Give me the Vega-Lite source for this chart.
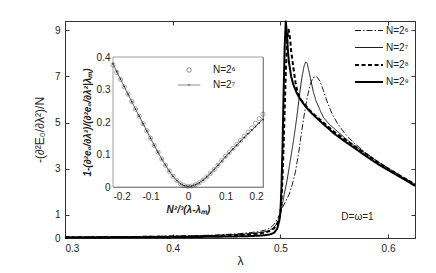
{
 "$schema": "https://vega.github.io/schema/vega-lite/v6.json",
 "width": 350, "height": 217, "autosize": "none",
 "padding": {"left": 65, "top": 21, "right": 21, "bottom": 35},
 "background": "white",
 "config": {
  "font": "Liberation Sans",
  "view": {"stroke": "#333333", "strokeWidth": 1},
  "axis": {"grid": false, "labelFont": "Liberation Sans", "labelFontSize": 10, "labelColor": "#222222", "titleFont": "Liberation Sans", "titleColor": "#222222", "titleFontWeight": "normal", "domainColor": "#333333", "tickColor": "#333333", "tickSize": -4, "labelPadding": 9},
  "legend": {"labelFont": "Liberation Sans", "labelFontSize": 10, "labelColor": "#222222"}
 },
 "datasets": {
  "main": [
   {"l":0.30,"v":0.04,"N":"N=2⁶"},{"l":0.33,"v":0.05,"N":"N=2⁶"},{"l":0.36,"v":0.06,"N":"N=2⁶"},{"l":0.39,"v":0.08,"N":"N=2⁶"},{"l":0.42,"v":0.10,"N":"N=2⁶"},{"l":0.44,"v":0.13,"N":"N=2⁶"},{"l":0.46,"v":0.18,"N":"N=2⁶"},{"l":0.47,"v":0.22,"N":"N=2⁶"},{"l":0.48,"v":0.28,"N":"N=2⁶"},{"l":0.485,"v":0.33,"N":"N=2⁶"},{"l":0.49,"v":0.42,"N":"N=2⁶"},{"l":0.494,"v":0.58,"N":"N=2⁶"},{"l":0.497,"v":0.8,"N":"N=2⁶"},{"l":0.5,"v":1.08,"N":"N=2⁶"},{"l":0.5015,"v":1.28,"N":"N=2⁶"},{"l":0.505,"v":1.6,"N":"N=2⁶"},{"l":0.508,"v":1.88,"N":"N=2⁶"},{"l":0.511,"v":2.3,"N":"N=2⁶"},{"l":0.514,"v":2.87,"N":"N=2⁶"},{"l":0.517,"v":3.7,"N":"N=2⁶"},{"l":0.52,"v":4.7,"N":"N=2⁶"},{"l":0.5225,"v":5.45,"N":"N=2⁶"},{"l":0.525,"v":6.1,"N":"N=2⁶"},{"l":0.528,"v":6.7,"N":"N=2⁶"},{"l":0.5305,"v":6.95,"N":"N=2⁶"},{"l":0.5335,"v":7.0,"N":"N=2⁶"},{"l":0.537,"v":6.78,"N":"N=2⁶"},{"l":0.54,"v":6.38,"N":"N=2⁶"},{"l":0.5435,"v":5.9,"N":"N=2⁶"},{"l":0.548,"v":5.38,"N":"N=2⁶"},{"l":0.553,"v":4.96,"N":"N=2⁶"},{"l":0.56,"v":4.52,"N":"N=2⁶"},{"l":0.568,"v":4.13,"N":"N=2⁶"},{"l":0.575,"v":3.86,"N":"N=2⁶"},{"l":0.58,"v":3.66,"N":"N=2⁶"},{"l":0.59,"v":3.33,"N":"N=2⁶"},{"l":0.60,"v":3.03,"N":"N=2⁶"},{"l":0.61,"v":2.75,"N":"N=2⁶"},{"l":0.62,"v":2.47,"N":"N=2⁶"},{"l":0.625,"v":2.33,"N":"N=2⁶"},
   {"l":0.30,"v":0.03,"N":"N=2⁷"},{"l":0.33,"v":0.04,"N":"N=2⁷"},{"l":0.36,"v":0.05,"N":"N=2⁷"},{"l":0.39,"v":0.065,"N":"N=2⁷"},{"l":0.42,"v":0.085,"N":"N=2⁷"},{"l":0.44,"v":0.11,"N":"N=2⁷"},{"l":0.46,"v":0.15,"N":"N=2⁷"},{"l":0.47,"v":0.18,"N":"N=2⁷"},{"l":0.48,"v":0.23,"N":"N=2⁷"},{"l":0.485,"v":0.27,"N":"N=2⁷"},{"l":0.49,"v":0.33,"N":"N=2⁷"},{"l":0.494,"v":0.45,"N":"N=2⁷"},{"l":0.497,"v":0.63,"N":"N=2⁷"},{"l":0.499,"v":0.85,"N":"N=2⁷"},{"l":0.5,"v":1.05,"N":"N=2⁷"},{"l":0.502,"v":1.5,"N":"N=2⁷"},{"l":0.504,"v":2.0,"N":"N=2⁷"},{"l":0.506,"v":2.44,"N":"N=2⁷"},{"l":0.509,"v":3.3,"N":"N=2⁷"},{"l":0.5125,"v":4.31,"N":"N=2⁷"},{"l":0.515,"v":5.15,"N":"N=2⁷"},{"l":0.517,"v":5.9,"N":"N=2⁷"},{"l":0.519,"v":6.65,"N":"N=2⁷"},{"l":0.5205,"v":7.08,"N":"N=2⁷"},{"l":0.522,"v":7.45,"N":"N=2⁷"},{"l":0.5235,"v":7.63,"N":"N=2⁷"},{"l":0.525,"v":7.55,"N":"N=2⁷"},{"l":0.528,"v":6.9,"N":"N=2⁷"},{"l":0.5305,"v":6.35,"N":"N=2⁷"},{"l":0.533,"v":5.95,"N":"N=2⁷"},{"l":0.537,"v":5.52,"N":"N=2⁷"},{"l":0.54,"v":5.22,"N":"N=2⁷"},{"l":0.546,"v":4.9,"N":"N=2⁷"},{"l":0.553,"v":4.62,"N":"N=2⁷"},{"l":0.56,"v":4.33,"N":"N=2⁷"},{"l":0.568,"v":4.02,"N":"N=2⁷"},{"l":0.575,"v":3.8,"N":"N=2⁷"},{"l":0.58,"v":3.63,"N":"N=2⁷"},{"l":0.59,"v":3.31,"N":"N=2⁷"},{"l":0.60,"v":3.01,"N":"N=2⁷"},{"l":0.61,"v":2.73,"N":"N=2⁷"},{"l":0.62,"v":2.45,"N":"N=2⁷"},{"l":0.625,"v":2.31,"N":"N=2⁷"},
   {"l":0.30,"v":0.03,"N":"N=2⁸"},{"l":0.33,"v":0.035,"N":"N=2⁸"},{"l":0.36,"v":0.045,"N":"N=2⁸"},{"l":0.39,"v":0.055,"N":"N=2⁸"},{"l":0.42,"v":0.07,"N":"N=2⁸"},{"l":0.44,"v":0.09,"N":"N=2⁸"},{"l":0.46,"v":0.12,"N":"N=2⁸"},{"l":0.47,"v":0.15,"N":"N=2⁸"},{"l":0.48,"v":0.19,"N":"N=2⁸"},{"l":0.485,"v":0.23,"N":"N=2⁸"},{"l":0.49,"v":0.3,"N":"N=2⁸"},{"l":0.494,"v":0.42,"N":"N=2⁸"},{"l":0.497,"v":0.62,"N":"N=2⁸"},{"l":0.499,"v":0.85,"N":"N=2⁸"},{"l":0.5,"v":1.1,"N":"N=2⁸"},{"l":0.501,"v":1.6,"N":"N=2⁸"},{"l":0.502,"v":2.6,"N":"N=2⁸"},{"l":0.503,"v":4.0,"N":"N=2⁸"},{"l":0.504,"v":5.6,"N":"N=2⁸"},{"l":0.505,"v":7.1,"N":"N=2⁸"},{"l":0.506,"v":8.3,"N":"N=2⁸"},{"l":0.507,"v":8.9,"N":"N=2⁸"},{"l":0.5077,"v":9.02,"N":"N=2⁸"},{"l":0.509,"v":8.65,"N":"N=2⁸"},{"l":0.51,"v":8.1,"N":"N=2⁸"},{"l":0.512,"v":7.4,"N":"N=2⁸"},{"l":0.514,"v":6.75,"N":"N=2⁸"},{"l":0.516,"v":6.3,"N":"N=2⁸"},{"l":0.519,"v":6.0,"N":"N=2⁸"},{"l":0.522,"v":5.82,"N":"N=2⁸"},{"l":0.527,"v":5.55,"N":"N=2⁸"},{"l":0.532,"v":5.32,"N":"N=2⁸"},{"l":0.54,"v":5.0,"N":"N=2⁸"},{"l":0.55,"v":4.6,"N":"N=2⁸"},{"l":0.56,"v":4.27,"N":"N=2⁸"},{"l":0.57,"v":3.95,"N":"N=2⁸"},{"l":0.58,"v":3.62,"N":"N=2⁸"},{"l":0.59,"v":3.3,"N":"N=2⁸"},{"l":0.60,"v":3.01,"N":"N=2⁸"},{"l":0.61,"v":2.73,"N":"N=2⁸"},{"l":0.62,"v":2.46,"N":"N=2⁸"},{"l":0.625,"v":2.32,"N":"N=2⁸"},
   {"l":0.30,"v":0.02,"N":"N=2⁹"},{"l":0.33,"v":0.025,"N":"N=2⁹"},{"l":0.36,"v":0.03,"N":"N=2⁹"},{"l":0.39,"v":0.035,"N":"N=2⁹"},{"l":0.42,"v":0.045,"N":"N=2⁹"},{"l":0.44,"v":0.055,"N":"N=2⁹"},{"l":0.46,"v":0.07,"N":"N=2⁹"},{"l":0.47,"v":0.08,"N":"N=2⁹"},{"l":0.48,"v":0.1,"N":"N=2⁹"},{"l":0.485,"v":0.12,"N":"N=2⁹"},{"l":0.49,"v":0.15,"N":"N=2⁹"},{"l":0.494,"v":0.22,"N":"N=2⁹"},{"l":0.497,"v":0.4,"N":"N=2⁹"},{"l":0.499,"v":0.75,"N":"N=2⁹"},{"l":0.5,"v":1.1,"N":"N=2⁹"},{"l":0.501,"v":2.2,"N":"N=2⁹"},{"l":0.502,"v":4.0,"N":"N=2⁹"},{"l":0.503,"v":6.3,"N":"N=2⁹"},{"l":0.504,"v":8.3,"N":"N=2⁹"},{"l":0.505,"v":9.38,"N":"N=2⁹"},{"l":0.506,"v":8.9,"N":"N=2⁹"},{"l":0.507,"v":8.1,"N":"N=2⁹"},{"l":0.508,"v":7.6,"N":"N=2⁹"},{"l":0.51,"v":7.0,"N":"N=2⁹"},{"l":0.512,"v":6.65,"N":"N=2⁹"},{"l":0.515,"v":6.3,"N":"N=2⁹"},{"l":0.518,"v":6.05,"N":"N=2⁹"},{"l":0.522,"v":5.78,"N":"N=2⁹"},{"l":0.527,"v":5.5,"N":"N=2⁹"},{"l":0.532,"v":5.27,"N":"N=2⁹"},{"l":0.54,"v":4.93,"N":"N=2⁹"},{"l":0.55,"v":4.52,"N":"N=2⁹"},{"l":0.56,"v":4.18,"N":"N=2⁹"},{"l":0.57,"v":3.86,"N":"N=2⁹"},{"l":0.58,"v":3.53,"N":"N=2⁹"},{"l":0.59,"v":3.22,"N":"N=2⁹"},{"l":0.60,"v":2.94,"N":"N=2⁹"},{"l":0.61,"v":2.67,"N":"N=2⁹"},{"l":0.62,"v":2.4,"N":"N=2⁹"},{"l":0.625,"v":2.26,"N":"N=2⁹"}
  ],
  "inset": [
   {"x":-0.20,"y":0.376,"s":"N=2⁶"},{"x":-0.19,"y":0.353,"s":"N=2⁶"},{"x":-0.18,"y":0.331,"s":"N=2⁶"},{"x":-0.17,"y":0.308,"s":"N=2⁶"},{"x":-0.16,"y":0.286,"s":"N=2⁶"},{"x":-0.15,"y":0.263,"s":"N=2⁶"},{"x":-0.14,"y":0.240,"s":"N=2⁶"},{"x":-0.13,"y":0.218,"s":"N=2⁶"},{"x":-0.12,"y":0.195,"s":"N=2⁶"},{"x":-0.11,"y":0.173,"s":"N=2⁶"},{"x":-0.10,"y":0.150,"s":"N=2⁶"},{"x":-0.09,"y":0.128,"s":"N=2⁶"},{"x":-0.08,"y":0.107,"s":"N=2⁶"},{"x":-0.07,"y":0.086,"s":"N=2⁶"},{"x":-0.06,"y":0.067,"s":"N=2⁶"},{"x":-0.05,"y":0.049,"s":"N=2⁶"},{"x":-0.04,"y":0.033,"s":"N=2⁶"},{"x":-0.03,"y":0.020,"s":"N=2⁶"},{"x":-0.02,"y":0.010,"s":"N=2⁶"},{"x":-0.01,"y":0.004,"s":"N=2⁶"},{"x":0.0,"y":0.002,"s":"N=2⁶"},{"x":0.01,"y":0.003,"s":"N=2⁶"},{"x":0.02,"y":0.007,"s":"N=2⁶"},{"x":0.03,"y":0.013,"s":"N=2⁶"},{"x":0.04,"y":0.021,"s":"N=2⁶"},{"x":0.05,"y":0.031,"s":"N=2⁶"},{"x":0.06,"y":0.042,"s":"N=2⁶"},{"x":0.07,"y":0.054,"s":"N=2⁶"},{"x":0.08,"y":0.067,"s":"N=2⁶"},{"x":0.09,"y":0.081,"s":"N=2⁶"},{"x":0.10,"y":0.095,"s":"N=2⁶"},{"x":0.11,"y":0.107,"s":"N=2⁶"},{"x":0.12,"y":0.119,"s":"N=2⁶"},{"x":0.13,"y":0.131,"s":"N=2⁶"},{"x":0.14,"y":0.143,"s":"N=2⁶"},{"x":0.15,"y":0.156,"s":"N=2⁶"},{"x":0.16,"y":0.169,"s":"N=2⁶"},{"x":0.17,"y":0.182,"s":"N=2⁶"},{"x":0.18,"y":0.196,"s":"N=2⁶"},{"x":0.19,"y":0.210,"s":"N=2⁶"},{"x":0.20,"y":0.224,"s":"N=2⁶"},
   {"x":-0.20,"y":0.379,"s":"N=2⁷"},{"x":-0.19,"y":0.355,"s":"N=2⁷"},{"x":-0.18,"y":0.332,"s":"N=2⁷"},{"x":-0.17,"y":0.309,"s":"N=2⁷"},{"x":-0.16,"y":0.286,"s":"N=2⁷"},{"x":-0.15,"y":0.263,"s":"N=2⁷"},{"x":-0.14,"y":0.240,"s":"N=2⁷"},{"x":-0.13,"y":0.218,"s":"N=2⁷"},{"x":-0.12,"y":0.195,"s":"N=2⁷"},{"x":-0.11,"y":0.173,"s":"N=2⁷"},{"x":-0.10,"y":0.150,"s":"N=2⁷"},{"x":-0.09,"y":0.128,"s":"N=2⁷"},{"x":-0.08,"y":0.107,"s":"N=2⁷"},{"x":-0.07,"y":0.086,"s":"N=2⁷"},{"x":-0.06,"y":0.067,"s":"N=2⁷"},{"x":-0.05,"y":0.049,"s":"N=2⁷"},{"x":-0.04,"y":0.033,"s":"N=2⁷"},{"x":-0.03,"y":0.020,"s":"N=2⁷"},{"x":-0.02,"y":0.010,"s":"N=2⁷"},{"x":-0.01,"y":0.004,"s":"N=2⁷"},{"x":0.0,"y":0.002,"s":"N=2⁷"},{"x":0.01,"y":0.003,"s":"N=2⁷"},{"x":0.02,"y":0.007,"s":"N=2⁷"},{"x":0.03,"y":0.013,"s":"N=2⁷"},{"x":0.04,"y":0.021,"s":"N=2⁷"},{"x":0.05,"y":0.031,"s":"N=2⁷"},{"x":0.06,"y":0.042,"s":"N=2⁷"},{"x":0.07,"y":0.054,"s":"N=2⁷"},{"x":0.08,"y":0.067,"s":"N=2⁷"},{"x":0.09,"y":0.080,"s":"N=2⁷"},{"x":0.10,"y":0.093,"s":"N=2⁷"},{"x":0.11,"y":0.105,"s":"N=2⁷"},{"x":0.12,"y":0.117,"s":"N=2⁷"},{"x":0.13,"y":0.129,"s":"N=2⁷"},{"x":0.14,"y":0.141,"s":"N=2⁷"},{"x":0.15,"y":0.153,"s":"N=2⁷"},{"x":0.16,"y":0.164,"s":"N=2⁷"},{"x":0.17,"y":0.175,"s":"N=2⁷"},{"x":0.18,"y":0.186,"s":"N=2⁷"},{"x":0.19,"y":0.197,"s":"N=2⁷"},{"x":0.20,"y":0.208,"s":"N=2⁷"}
  ]
 },
 "layer": [
  {
   "layer": [
    {
     "data": {"name": "main"},
     "mark": {"type": "line", "color": "black", "strokeJoin": "round"},
     "encoding": {
      "x": {"field": "l", "type": "quantitative", "scale": {"domain": [0.3, 0.625], "nice": false, "zero": false},
            "axis": {"orient": "bottom", "values": [0.3, 0.4, 0.5, 0.6], "format": ".1f", "title": "λ", "titleFontSize": 12, "titlePadding": 2}},
      "y": {"field": "v", "type": "quantitative", "scale": {"domain": [0, 9.4], "nice": false},
            "axis": {"orient": "left", "values": [0, 1, 3, 5, 7, 9], "title": "-(∂²E₀/∂λ²)/N", "titleFontSize": 12, "titlePadding": 8}},
      "strokeDash": {"field": "N", "type": "nominal",
            "scale": {"domain": ["N=2⁶", "N=2⁷", "N=2⁸", "N=2⁹"], "range": [[6, 2, 1.5, 2], [1, 0], [4, 2.5], [1, 0]]},
            "legend": {"title": null, "orient": "none", "legendX": 288, "legendY": 3, "symbolType": "M-2.5,0H2.5", "symbolSize": 125, "symbolOffset": 9, "labelOffset": 10, "rowPadding": 5, "padding": 0, "symbolStrokeColor": "black", "labelFontSize": 10}},
      "strokeWidth": {"field": "N", "type": "nominal",
            "scale": {"type": "ordinal", "domain": ["N=2⁶", "N=2⁷", "N=2⁸", "N=2⁹"], "range": [0.9, 0.9, 2, 2]},
            "legend": {"title": null, "orient": "none", "legendX": 288, "legendY": 3, "symbolType": "M-2.5,0H2.5", "symbolSize": 125, "symbolOffset": 9, "labelOffset": 10, "rowPadding": 5, "padding": 0, "symbolStrokeColor": "black", "labelFontSize": 10}}
     }
    },
    {
     "data": {"values": [{"l": 0.5716, "v": 0.9, "t": "D=ω=1"}]},
     "mark": {"type": "text", "fontSize": 10, "color": "#222222", "font": "Liberation Sans"},
     "encoding": {
      "x": {"field": "l", "type": "quantitative", "axis": {"orient": "top", "values": [0.3, 0.4, 0.5, 0.6], "labels": false, "title": null}},
      "y": {"field": "v", "type": "quantitative", "axis": {"orient": "right", "values": [0, 1, 3, 5, 7, 9], "labels": false, "title": null}},
      "text": {"field": "t"}
     }
    }
   ]
  },
  {
   "layer": [
    {
     "data": {"values": [{"x1": -0.2, "x2": 0.2, "y1": 0, "y2": 0.4}]},
     "mark": {"type": "rect", "fill": "white", "stroke": "#888888", "strokeWidth": 0.8},
     "encoding": {
      "x": {"field": "x1", "type": "quantitative", "scale": {"domain": [-0.2, 0.2], "range": [48, 198], "nice": false, "zero": false},
            "axis": {"orient": "bottom", "offset": -51, "values": [-0.2, -0.1, 0, 0.1, 0.2], "labelExpr": "datum.value == 0 ? '0' : (datum.value < 0 ? '-' : '') + format(abs(datum.value), '.1f')", "domainColor": "#888888", "tickColor": "#888888", "title": "N²/³(λ-λₘ)", "titleFontSize": 10, "titleFontWeight": "bold", "titleFontStyle": "italic", "titlePadding": 3, "labelPadding": 8}},
      "x2": {"field": "x2"},
      "y": {"field": "y1", "type": "quantitative", "scale": {"domain": [0, 0.4], "range": [166, 36], "nice": false},
            "axis": {"orient": "left", "offset": -48, "values": [0, 0.1, 0.2, 0.3, 0.4], "labelExpr": "datum.value == 0 ? '0' : format(datum.value, '.1f')", "domainColor": "#888888", "tickColor": "#888888", "title": "1-(∂²e₀/∂λ²)/(∂²e₀/∂λ²|λₘ)", "titleFontSize": 10, "titleFontWeight": "bold", "titleFontStyle": "italic", "titlePadding": 4, "labelPadding": 7}},
      "y2": {"field": "y2"}
     }
    },
    {
     "data": {"name": "inset"},
     "transform": [{"filter": "datum.s == 'N=2⁷'"}],
     "mark": {"type": "line", "color": "#333333", "strokeWidth": 0.8, "point": {"filled": true, "size": 3, "color": "#222222"}},
     "encoding": {
      "x": {"field": "x", "type": "quantitative", "axis": {"orient": "top", "offset": -36, "values": [-0.2, -0.1, 0, 0.1, 0.2], "labels": false, "title": null, "domainColor": "#888888", "tickColor": "#888888"}},
      "y": {"field": "y", "type": "quantitative", "axis": {"orient": "right", "offset": -152, "values": [0, 0.1, 0.2, 0.3, 0.4], "labels": false, "title": null, "domainColor": "#888888", "tickColor": "#888888"}}
     }
    },
    {
     "data": {"name": "inset"},
     "transform": [{"filter": "datum.s == 'N=2⁶'"}],
     "mark": {"type": "point", "filled": false, "color": "#333333", "strokeWidth": 0.6, "size": 18},
     "encoding": {
      "x": {"field": "x", "type": "quantitative", "axis": null},
      "y": {"field": "y", "type": "quantitative", "axis": null},
      "shape": {"field": "s", "type": "nominal",
            "scale": {"domain": ["N=2⁶", "N=2⁷"], "range": ["circle", "M-5,0H5M-0.4,0A0.4,0.4,0,1,1,0.4,0A0.4,0.4,0,1,1,-0.4,0"]},
            "legend": {"title": null, "orient": "none", "legendX": 104, "legendY": 44, "symbolSize": 20, "symbolOffset": 15, "labelOffset": 19, "rowPadding": 5, "padding": 0, "symbolStrokeColor": "#333333", "symbolStrokeWidth": 0.8, "symbolFillColor": "transparent", "labelFontSize": 10}}
     }
    }
   ]
  }
 ],
 "resolve": {"scale": {"x": "independent", "y": "independent"}}
}
